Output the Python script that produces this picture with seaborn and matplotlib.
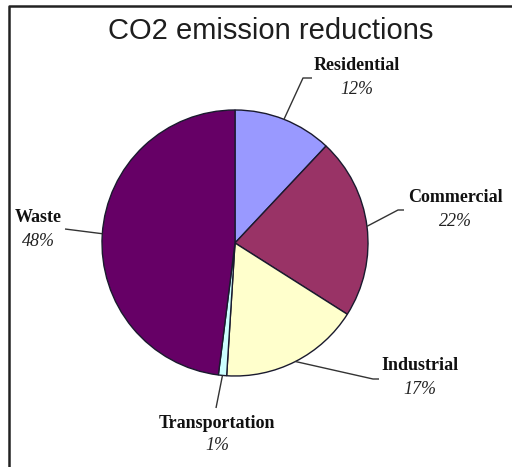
import numpy as np
import matplotlib
matplotlib.use("Agg")
import matplotlib.pyplot as plt
import seaborn as sns

sns.set_theme(style="white")

title = "CO2 emission reductions"
categories = ["Residential", "Commercial", "Industrial", "Transportation", "Waste"]
values = [12, 22, 17, 1, 48]
pct_labels = ["12%", "22%", "17%", "1%", "48%"]
colors = ["#9999FF", "#993366", "#FFFFCC", "#CCFFFF", "#660066"]

W, H = 512, 467
fig = plt.figure(figsize=(W / 100, H / 100), dpi=100)
ax = fig.add_axes([0, 0, 1, 1])

def Y(y):
    return H - y

cx, cy, r = 235, 243, 133
wedges, _ = ax.pie(values, colors=colors, startangle=90, counterclock=False,
                   center=(cx, Y(cy)), radius=r,
                   wedgeprops=dict(edgecolor="#1a1a2e", linewidth=1.0))
ax.set_xlim(0, W)
ax.set_ylim(0, H)
ax.set_aspect("equal")
ax.axis("off")

# label layout: (name center x, name y, pct y, elbow points in image px, attach angle override)
layout = {
    "Residential": (357, 66, 90, [(303, 78), (312, 78)], None),
    "Commercial": (455, 197, 221, [(398, 210), (404, 210)], None),
    "Industrial": (420, 366, 389, [(373, 379), (379, 379)], None),
    "Transportation": (217, 424, 446, [(216, 408)], None),
    "Waste": (38, 218, 241, [(65, 229)], 176.0),
}

for w, cat, pct in zip(wedges, categories, pct_labels):
    tx, ny, py, elbow, ang = layout[cat]
    a = (w.theta1 + w.theta2) / 2 if ang is None else ang
    mid = np.deg2rad(a)
    ex = cx + r * np.cos(mid)
    ey = Y(cy) + r * np.sin(mid)
    xs = [ex] + [p[0] for p in elbow]
    ys = [ey] + [Y(p[1]) for p in elbow]
    ax.plot(xs, ys, color="#333333", linewidth=1.0, solid_capstyle="butt")
    ax.text(tx, Y(ny), cat, ha="center", va="center", fontsize=13,
            fontweight="bold", family="Liberation Serif", color="#111111")
    ax.text(tx, Y(py), pct, ha="center", va="center", fontsize=13,
            fontstyle="italic", family="Liberation Serif", color="#222222")

ax.text(271, Y(31), title, ha="center", va="center", fontsize=21,
        family="Liberation Sans", color="#1e1e1e")

# chart frame (left and top edges visible)
ax.plot([9, 9, W + 5], [Y(H + 5), Y(6), Y(6)], color="#222222",
        linewidth=1.8, clip_on=False)

fig.savefig("out.png", dpi=100, facecolor="white")
